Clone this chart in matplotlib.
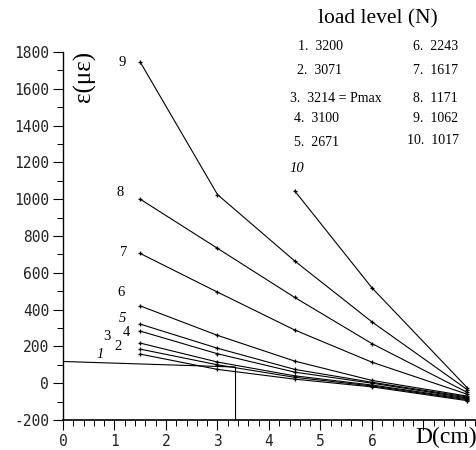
import matplotlib
import numpy as np

matplotlib.use('Agg')
from matplotlib import pyplot as plt
from matplotlib.ticker import MultipleLocator

plt.rcParams['axes.unicode_minus'] = False

# distance from load point (cm)
D = [1.5, 3.0, 4.5, 6.0, 7.85]
D10 = [4.5, 6.0, 7.85]

# strain (micro-strain) per load level
line1 = [158, 75, 22, -20, -95]
line2 = [185, 100, 32, -15, -90]
line3 = [218, 115, 40, -10, -85]
line4 = [283, 160, 60, 0, -80]
line5 = [321, 190, 75, 5, -75]
line6 = [420, 260, 120, 15, -70]
line7 = [705, 495, 289, 114, -60]
line8 = [1000, 733, 466, 215, -50]
line9 = [1745, 1025, 664, 333, -35]
line10 = [1045, 518, -25]

# reference construction line drawn on the original
ref_x = [0.0, 3.35, 3.35]
ref_y = [118, 88, -200]

legend_left = ['1.  3200', '2.  3071', '3.  3214 = Pmax', '4.  3100', '5.  2671']
legend_right = ['6.  2243', '7.  1617', '8.  1171', '9.  1062', '10.  1017']

x_ticks = [0, 1, 2, 3, 4, 5, 6, 7]
x_ticklabels = ['0', '1', '2', '3', '4', '5', '6', '']
y_ticks = list(range(-200, 1801, 200))

W, H = 477, 450


def px(x, y):
    # pixel position in the picture -> figure fraction
    return x / W, 1 - y / H


fig = plt.figure(figsize=(W / 100, H / 100), dpi=100)
ax = fig.add_axes([63 / W, 30 / H, 412 / W, 368 / H])

series = [line1, line2, line3, line4, line5, line6, line7, line8, line9]
for vals in series:
    ax.plot(D, vals, color='black', lw=0.8, marker='+', ms=3.5, mew=0.9)
ax.plot(D10, line10, color='black', lw=0.8, marker='+', ms=3.5, mew=0.9)
ax.plot(ref_x, ref_y, color='black', lw=0.8)

ax.set_xlim(0, 8)
ax.set_ylim(-200, 1800)
ax.spines['top'].set_visible(False)
ax.spines['right'].set_visible(False)
ax.spines['left'].set_linewidth(1.0)
ax.spines['bottom'].set_linewidth(1.2)

ax.set_xticks(x_ticks)
ax.set_xticklabels(x_ticklabels)
ax.xaxis.set_minor_locator(MultipleLocator(0.2))
ax.set_yticks(y_ticks)
ax.yaxis.set_minor_locator(MultipleLocator(100))
ax.tick_params(which='major', direction='out', length=7, width=0.8,
               labelsize=10.5, pad=3)
ax.tick_params(which='minor', direction='out', length=4, width=0.7)
for lab in ax.get_xticklabels() + ax.get_yticklabels():
    lab.set_family('DejaVu Sans Mono')
    lab.set_color('#222222')

# curve numbers
serif = 'Liberation Serif'
curve_labels = [
    ('1', 100, 354, True), ('2', 118, 347, False), ('3', 107, 336, False),
    ('4', 126, 332, False), ('5', 122, 318, True), ('6', 121, 293, False),
    ('7', 124, 252, False), ('8', 120, 192, False), ('9', 122, 63, False),
    ('10', 297, 168, True),
]
for txt, x, y, ital in curve_labels:
    fig.text(*px(x, y), txt, family=serif, style='italic' if ital else 'normal',
             fontsize=10.5, ha='center', va='center')

# axis titles placed as on the scan
fig.text(*px(84, 76), 'ε(με)', family=serif, fontsize=18, rotation=90,
         ha='center', va='center')
fig.text(*px(415, 437), 'D(cm)', family=serif, fontsize=17,
         ha='left', va='center')

# load level legend
fig.text(*px(378, 19), 'load level (N)', family=serif, fontsize=15.5,
         ha='center', va='center')
left_pos = [(298, 47), (297, 70), (290, 99), (294, 118), (294, 143)]
right_pos = [(413, 47), (413, 70), (413, 99), (413, 118), (407, 140)]
for txt, (x, y) in zip(legend_left, left_pos):
    fig.text(*px(x, y), txt, family=serif, fontsize=10, ha='left', va='center')
for txt, (x, y) in zip(legend_right, right_pos):
    fig.text(*px(x, y), txt, family=serif, fontsize=10, ha='left', va='center')

fig.savefig('out.png', dpi=100)
